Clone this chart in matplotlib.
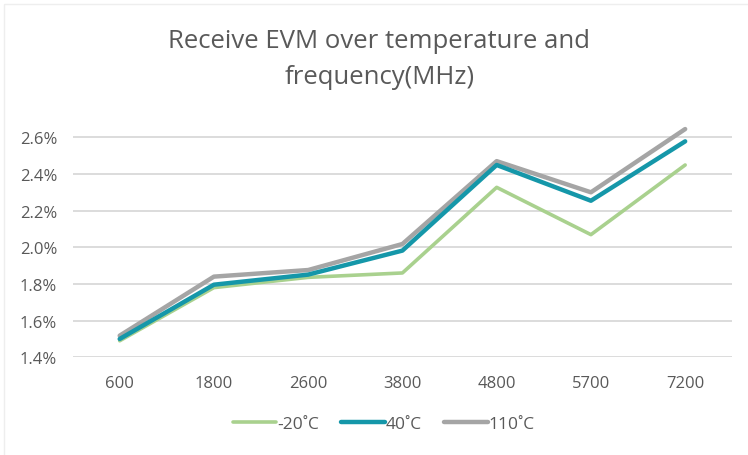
import matplotlib.pyplot as plt
from matplotlib.patches import Rectangle

# frequencies (MHz)
freqs = ["600", "1800", "2600", "3800", "4800", "5700", "7200"]
# receive EVM (%) per temperature
evm_m20 = [1.49, 1.78, 1.836, 1.86, 2.327, 2.069, 2.449]
evm_40 = [1.50, 1.796, 1.851, 1.982, 2.449, 2.254, 2.578]
evm_110 = [1.518, 1.84, 1.876, 2.018, 2.47, 2.30, 2.645]
yticks = [1.4, 1.6, 1.8, 2.0, 2.2, 2.4, 2.6]

plt.rcParams['font.family'] = ['Open Sans', 'DejaVu Sans']

fig = plt.figure(figsize=(7.48, 4.56), dpi=100)
ax = fig.add_axes([0.097, 0.2143, 0.882, 0.5226])

x = range(len(freqs))
# draw the three series
ax.plot(x, evm_m20, color="#a9d18e", lw=2.6, label="-20˚C", solid_capstyle="round", clip_on=False)
ax.plot(x, evm_110, color="#a5a5a5", lw=3.2, label="110˚C", solid_capstyle="round", clip_on=False)
ax.plot(x, evm_40, color="#1597a9", lw=3.2, label="40˚C", solid_capstyle="round", clip_on=False)

ax.set_xlim(-0.5, len(freqs) - 0.5)
ax.set_ylim(1.4, 2.7)
ax.set_xticks(list(x))
ax.set_xticklabels(freqs)
ax.set_yticks(yticks)
ax.set_yticklabels([f"{v:.1f}%" for v in yticks])
ax.tick_params(axis="both", length=0, labelsize=12, colors="#595959")
ax.tick_params(axis="x", pad=13)
ax.tick_params(axis="y", pad=11)
ax.grid(axis="y", color="#d9d9d9", lw=1.3)
ax.set_axisbelow(True)
for s in ax.spines.values():
    s.set_visible(False)

fig.text(0.507, 1 - 42 / 456, "Receive EVM over temperature and", ha="center", va="center",
         fontsize=18.5, color="#595959")
fig.text(0.507, 1 - 77 / 456, "frequency(MHz)", ha="center", va="center",
         fontsize=18.5, color="#595959")

# legend in order -20, 40, 110
h, l = ax.get_legend_handles_labels()
order = [0, 2, 1]
fig.legend([h[i] for i in order], [l[i] for i in order], loc="center", bbox_to_anchor=(0.513, 1 - 425 / 456),
           ncol=3, frameon=False, fontsize=12.5, labelcolor="#595959", handlelength=2.5,
           handletextpad=0.05, columnspacing=1.3)

# faint chart border
fig.patches.append(Rectangle((0.005, -0.01), 1.0, 0.998, transform=fig.transFigure,
                             fill=False, edgecolor="#eeeeee", lw=1))

fig.savefig("out.png", dpi=100)
